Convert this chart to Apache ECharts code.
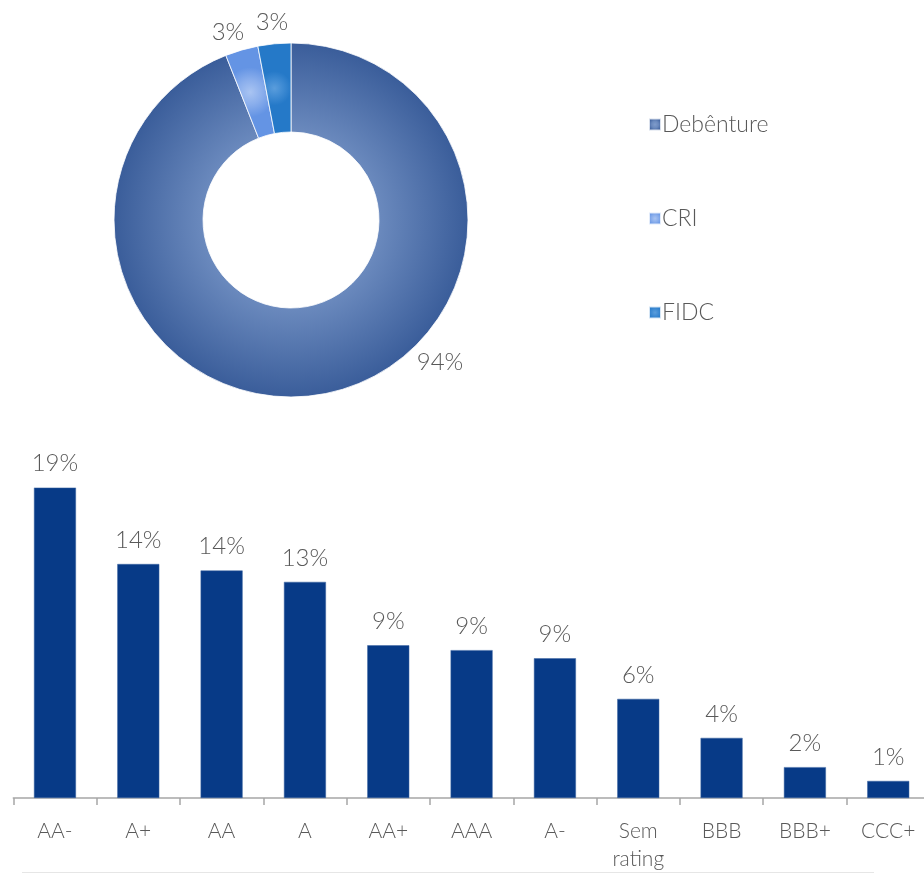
<!DOCTYPE html>
<html>
<head>
<meta charset="utf-8">
<script src="https://cdn.jsdelivr.net/npm/echarts@6/dist/echarts.min.js"></script>
<style>
html,body{margin:0;padding:0;background:#fff;overflow:hidden;}
#c{width:940px;height:873px;}
</style>
</head>
<body>
<div id="c"></div>
<script>
// Donut data
const pieNames = ['Debênture', 'CRI', 'FIDC'];
const pieValues = [94, 3, 3];

// Bar data (percent)
const barCategories = ['AA-', 'A+', 'AA', 'A', 'AA+', 'AAA', 'A-', 'Sem\nrating', 'BBB', 'BBB+', 'CCC+'];
const barValues = [19.1, 14.4, 14.0, 13.3, 9.4, 9.1, 8.6, 6.1, 3.7, 1.9, 1.05];

const FONT = 'Lato';
const TXT = '#595959';

function radial(c0, c1, c2) {
  return new echarts.graphic.RadialGradient(0.5, 0.5, 0.5, [
    {offset: 0, color: c0}, {offset: 0.5, color: c1}, {offset: 1, color: c2}
  ]);
}
const pieColors = [
  radial('#7f9ccb', '#6a89bd', '#3a5d9a'),
  radial('#a9c4f2', '#8aaeec', '#6494e4'),
  radial('#5a9ddc', '#3f8bd3', '#2579c8')
];

const labelPos = [[440, 362], [228, 32], [272, 22]];

const chart = echarts.init(document.getElementById('c'), null, {renderer: 'canvas'});
chart.setOption({
  animation: false,
  textStyle: {fontFamily: FONT},
  legend: {
    orient: 'vertical',
    left: 643,
    top: 108,
    itemWidth: 12,
    itemHeight: 12,
    itemGap: 71,
    icon: 'rect',
    data: pieNames,
    textStyle: {fontFamily: FONT, fontSize: 23, fontWeight: 300, color: TXT, padding: [0, 0, 0, -4]}
  },
  grid: {left: 13.3, width: 916.6, top: 801 - 20 * 16.4, height: 20 * 16.4, containLabel: false},
  xAxis: {
    type: 'category',
    data: barCategories,
    boundaryGap: true,
    axisLine: {show: true, lineStyle: {color: '#a6a6a6', width: 1.5}},
    axisTick: {show: true, length: 7, lineStyle: {color: '#a6a6a6', width: 1.5}},
    axisLabel: {fontFamily: FONT, fontSize: 21, fontWeight: 300, color: TXT, margin: 19, lineHeight: 28, interval: 0}
  },
  yAxis: {type: 'value', min: 0, max: 20, show: false, splitLine: {show: false}},
  series: [
    {
      type: 'pie',
      center: [291, 220],
      radius: [88, 177],
      startAngle: 90,
      clockwise: true,
      silent: true,
      data: pieNames.map((n, i) => ({
        name: n, value: pieValues[i],
        itemStyle: {color: pieColors[i], borderColor: 'rgba(255,255,255,0.8)', borderWidth: 1}
      })),
      label: {
        show: true,
        position: 'outside',
        formatter: p => p.value + '%',
        fontFamily: FONT, fontSize: 24, fontWeight: 300, color: TXT
      },
      labelLine: {show: false},
      labelLayout: p => ({x: labelPos[p.dataIndex][0], y: labelPos[p.dataIndex][1], align: 'center', verticalAlign: 'middle'})
    },
    {
      type: 'bar',
      data: barValues,
      barWidth: 42,
      itemStyle: {color: '#073a87', borderColor: '#3f66a3', borderWidth: 0.5},
      label: {
        show: true,
        position: 'top',
        distance: 12,
        formatter: p => Math.round(p.value) + '%',
        fontFamily: FONT, fontSize: 24, fontWeight: 300, color: TXT
      }
    }
  ],
  graphic: [
    {type: 'line', shape: {x1: 22, y1: 872.5, x2: 874, y2: 872.5}, style: {stroke: '#e6e6e6', lineWidth: 1}}
  ]
});
</script>
</body>
</html>
